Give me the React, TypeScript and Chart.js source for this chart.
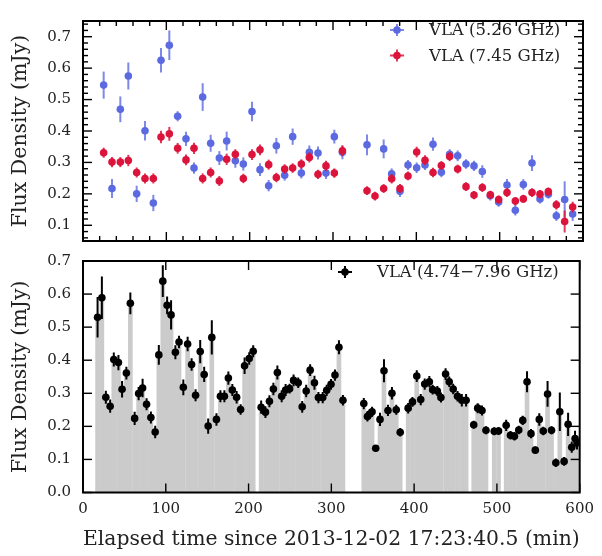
import React, { useEffect, useRef } from "react";
import { Chart, registerables } from "chart.js";

Chart.register(...registerables);

// ---------- data ----------
const blueTime = [24.8, 34.8, 44.8, 54.4, 64.4, 74.4, 84.4, 93.6, 103.6, 113.6, 123.6, 133.2, 143.6, 153.2, 163.6, 172.4, 182.8, 192.4, 202.8, 212.4, 222.8, 232, 242, 251.6, 262, 271.6, 282, 291.6, 301.6, 311.3, 340.8, 360.8, 370.4, 380.4, 390, 400.4, 410.4, 420, 430, 440, 449.6, 459.6, 469.2, 479.2, 488.8, 498.8, 508.8, 518.8, 528.4, 538.8, 548.4, 558.4, 568, 578, 587.6];
const blueFlux = [0.546, 0.217, 0.469, 0.575, 0.2, 0.401, 0.171, 0.625, 0.673, 0.447, 0.375, 0.282, 0.508, 0.361, 0.314, 0.368, 0.305, 0.295, 0.462, 0.277, 0.226, 0.353, 0.259, 0.382, 0.266, 0.332, 0.33, 0.266, 0.382, 0.332, 0.356, 0.343, 0.264, 0.208, 0.292, 0.283, 0.292, 0.358, 0.269, 0.326, 0.321, 0.295, 0.289, 0.271, 0.194, 0.174, 0.228, 0.148, 0.23, 0.298, 0.184, 0.199, 0.13, 0.182, 0.136];
const blueErr = [0.043, 0.03, 0.041, 0.043, 0.026, 0.031, 0.026, 0.039, 0.047, 0.016, 0.023, 0.018, 0.044, 0.027, 0.022, 0.03, 0.022, 0.021, 0.031, 0.02, 0.018, 0.025, 0.017, 0.026, 0.017, 0.022, 0.021, 0.019, 0.022, 0.022, 0.033, 0.03, 0.017, 0.018, 0.016, 0.017, 0.016, 0.021, 0.016, 0.016, 0.017, 0.015, 0.016, 0.02, 0.015, 0.015, 0.019, 0.017, 0.017, 0.025, 0.015, 0.014, 0.016, 0.058, 0.022];

const redTime = [24.8, 34.8, 44.8, 54.4, 64.4, 74.4, 84.4, 93.6, 103.6, 113.6, 123.6, 133.2, 143.6, 153.2, 163.6, 172.4, 182.8, 192.4, 202.8, 212.4, 222.8, 232, 242, 251.6, 262, 271.6, 282, 291.6, 301.6, 311.3, 340.8, 350.4, 360.8, 370.4, 380.4, 390, 400.4, 410.4, 420, 430, 440, 449.6, 459.6, 469.2, 479.2, 488.8, 498.8, 508.8, 518.8, 528.4, 538.8, 548.4, 558.4, 568, 578, 587.6];
const redFlux = [0.331, 0.301, 0.301, 0.306, 0.268, 0.249, 0.249, 0.381, 0.391, 0.345, 0.308, 0.345, 0.249, 0.268, 0.241, 0.31, 0.326, 0.249, 0.325, 0.34, 0.293, 0.252, 0.279, 0.282, 0.295, 0.316, 0.262, 0.289, 0.266, 0.337, 0.21, 0.193, 0.217, 0.248, 0.217, 0.257, 0.333, 0.307, 0.268, 0.29, 0.319, 0.279, 0.223, 0.196, 0.22, 0.197, 0.182, 0.204, 0.177, 0.184, 0.204, 0.199, 0.207, 0.165, 0.112, 0.158];
const redErr = [0.016, 0.016, 0.016, 0.018, 0.016, 0.016, 0.016, 0.02, 0.022, 0.017, 0.017, 0.018, 0.016, 0.016, 0.016, 0.018, 0.016, 0.015, 0.017, 0.017, 0.016, 0.015, 0.015, 0.015, 0.015, 0.016, 0.015, 0.016, 0.015, 0.017, 0.014, 0.014, 0.014, 0.015, 0.014, 0.014, 0.017, 0.016, 0.015, 0.014, 0.015, 0.014, 0.014, 0.013, 0.014, 0.013, 0.013, 0.014, 0.013, 0.013, 0.014, 0.013, 0.013, 0.015, 0.035, 0.017];

const bandTime = [17.6, 22.8, 27.6, 32.8, 37.2, 42.8, 47.2, 52.4, 57.2, 62.4, 67.2, 72, 76.8, 82, 87.2, 91.6, 96.4, 101.6, 106.4, 111.6, 116, 121.2, 126.4, 131.2, 136, 141.6, 146.4, 151.2, 155.6, 161.2, 166, 170.8, 175.6, 180.4, 185.6, 190.4, 195.2, 200.8, 205.6, 215.2, 220.4, 225.2, 230, 234.8, 240, 244.8, 249.6, 254.4, 260, 264.8, 269.6, 274.4, 279.6, 284.4, 289.6, 294.4, 299.6, 304.4, 309.2, 314, 339.2, 343.6, 346.4, 349.2, 353.6, 358.8, 363.6, 368.4, 373.2, 378.4, 383.2, 392.8, 398, 403.2, 408, 412.8, 418.4, 422.4, 428, 432.4, 438, 442.4, 447.2, 452.4, 457.6, 462.8, 472, 476.8, 482, 486.8, 496.8, 502, 511.2, 516.4, 521.2, 526.4, 531.2, 536.4, 541.2, 546.4, 551.2, 556, 561.2, 566, 571.2, 576, 581.2, 586, 590.4, 594.4, 596.8];
const bandFlux = [0.53, 0.589, 0.288, 0.261, 0.402, 0.393, 0.312, 0.361, 0.572, 0.224, 0.299, 0.316, 0.267, 0.227, 0.183, 0.416, 0.639, 0.566, 0.537, 0.424, 0.455, 0.318, 0.449, 0.387, 0.294, 0.426, 0.357, 0.201, 0.469, 0.221, 0.291, 0.291, 0.346, 0.31, 0.288, 0.251, 0.383, 0.405, 0.427, 0.258, 0.243, 0.276, 0.313, 0.363, 0.291, 0.31, 0.314, 0.339, 0.332, 0.259, 0.307, 0.37, 0.332, 0.287, 0.287, 0.309, 0.327, 0.355, 0.439, 0.279, 0.269, 0.23, 0.237, 0.244, 0.134, 0.221, 0.368, 0.248, 0.3, 0.25, 0.182, 0.255, 0.274, 0.352, 0.281, 0.328, 0.335, 0.311, 0.307, 0.287, 0.358, 0.335, 0.313, 0.291, 0.279, 0.279, 0.205, 0.255, 0.248, 0.188, 0.185, 0.186, 0.203, 0.173, 0.17, 0.189, 0.218, 0.335, 0.178, 0.128, 0.221, 0.186, 0.298, 0.188, 0.09, 0.244, 0.094, 0.206, 0.137, 0.163, 0.15];
const bandErr = [0.061, 0.064, 0.02, 0.02, 0.021, 0.023, 0.025, 0.019, 0.033, 0.02, 0.02, 0.028, 0.018, 0.018, 0.019, 0.03, 0.048, 0.027, 0.044, 0.021, 0.019, 0.024, 0.022, 0.019, 0.018, 0.035, 0.023, 0.023, 0.052, 0.019, 0.018, 0.018, 0.02, 0.018, 0.019, 0.016, 0.025, 0.019, 0.018, 0.02, 0.018, 0.018, 0.019, 0.021, 0.018, 0.018, 0.015, 0.018, 0.016, 0.018, 0.019, 0.018, 0.021, 0.017, 0.017, 0.017, 0.016, 0.017, 0.021, 0.016, 0.017, 0.015, 0.015, 0.015, 0.01, 0.02, 0.035, 0.017, 0.019, 0.015, 0.013, 0.016, 0.015, 0.018, 0.017, 0.017, 0.017, 0.015, 0.015, 0.015, 0.018, 0.016, 0.016, 0.016, 0.019, 0.019, 0.012, 0.015, 0.015, 0.012, 0.012, 0.012, 0.017, 0.013, 0.013, 0.013, 0.014, 0.032, 0.014, 0.011, 0.019, 0.013, 0.039, 0.012, 0.013, 0.058, 0.013, 0.035, 0.017, 0.024, 0.02];

const xTickValues = [0, 100, 200, 300, 400, 500, 600];
const yTickTop = [0.1, 0.2, 0.3, 0.4, 0.5, 0.6, 0.7];
const yTickBottom = [0.0, 0.1, 0.2, 0.3, 0.4, 0.5, 0.6, 0.7];

const legendTop = ["VLA (5.26 GHz)", "VLA (7.45 GHz)"];
const legendBottom = ["VLA (4.74\u22127.96 GHz)"];
const xTitle = "Elapsed time since 2013-12-02 17:23:40.5 (min)";
const yTitle = "Flux Density (mJy)";

// ---------- styles ----------
const FONT = "'DejaVu Serif', serif";
const BLUE = "#5c6ae2";
const RED = "#dc143c";
const BLACK = "#000000";
const GREY = "#cbcbcb";
const TEXT = "#222222";

const toPoints = (xs: number[], ys: number[]) => xs.map((x, i) => ({ x, y: ys[i] }));

// error bars, drawn right before each dataset's points
const errorBarPlugin = {
  id: "errorBars",
  beforeDatasetDraw(chart: any, args: any) {
    const ds = chart.data.datasets[args.index];
    if (!ds.errors) return;
    const xs = chart.scales.x;
    const ys = chart.scales.y;
    const ctx = chart.ctx;
    const a = chart.chartArea;
    ctx.save();
    ctx.beginPath();
    ctx.rect(a.left, a.top, a.right - a.left, a.bottom - a.top);
    ctx.clip();
    ctx.strokeStyle = ds.errorColor;
    ctx.globalAlpha = ds.errorAlpha ?? 1;
    ctx.lineWidth = 2;
    ds.data.forEach((p: any, i: number) => {
      const e = ds.errors[i];
      const x = xs.getPixelForValue(p.x);
      ctx.beginPath();
      ctx.moveTo(x, ys.getPixelForValue(p.y - e));
      ctx.lineTo(x, ys.getPixelForValue(p.y + e));
      ctx.stroke();
    });
    ctx.restore();
  },
};

// frame + inward ticks + custom legend
const framePlugin = {
  id: "frameTicks",
  afterDraw(chart: any, _args: any, opts: any) {
    const ctx = chart.ctx;
    const a = chart.chartArea;
    const xs = chart.scales.x;
    const ys = chart.scales.y;
    const MAJ = 9;
    const MIN = 5;
    ctx.save();
    ctx.strokeStyle = "#000";
    ctx.lineWidth = 1.4;
    const line = (x1: number, y1: number, x2: number, y2: number) => {
      ctx.beginPath();
      ctx.moveTo(x1, y1);
      ctx.lineTo(x2, y2);
      ctx.stroke();
    };
    const xTick = (v: number, len: number) => {
      const px = xs.getPixelForValue(v);
      line(px, a.bottom, px, a.bottom - len);
      line(px, a.top, px, a.top + len);
    };
    const yTick = (v: number, len: number) => {
      const py = ys.getPixelForValue(v);
      line(a.left, py, a.left + len, py);
      line(a.right, py, a.right - len, py);
    };
    xs.ticks.forEach((t: any) => xTick(t.value, MAJ));
    ys.ticks.forEach((t: any) => yTick(t.value, MAJ));
    const minors = (scale: any, step: number, major: number, fn: (v: number, l: number) => void) => {
      const k0 = Math.ceil(scale.min / step - 1e-9);
      const k1 = Math.floor(scale.max / step + 1e-9);
      for (let k = k0; k <= k1; k++) {
        const v = k * step;
        const r = v / major;
        if (Math.abs(r - Math.round(r)) < 1e-6) continue;
        fn(v, MIN);
      }
    };
    if (opts.minorX) minors(xs, opts.minorX, 100, xTick);
    if (opts.minorY) minors(ys, opts.minorY, 0.1, yTick);

    ctx.lineWidth = 2;
    ctx.strokeRect(a.left, a.top, a.right - a.left, a.bottom - a.top);

    // legend
    const lg = opts.legend;
    if (lg) {
      ctx.font = `${lg.size}px ${FONT}`;
      ctx.textBaseline = "middle";
      ctx.textAlign = "left";
      lg.items.forEach((it: any, i: number) => {
        const cx = lg.x;
        const cy = lg.y + i * lg.dy;
        ctx.strokeStyle = it.color;
        ctx.globalAlpha = it.alpha ?? 1;
        ctx.lineWidth = 2;
        line(cx - 7, cy, cx + 7, cy);
        line(cx, cy - 6, cx, cy + 6);
        ctx.globalAlpha = 1;
        ctx.fillStyle = it.color;
        ctx.beginPath();
        ctx.arc(cx, cy, 3.8, 0, Math.PI * 2);
        ctx.fill();
        ctx.fillStyle = TEXT;
        ctx.fillText(it.text, lg.textX, cy + 1);
      });
    }
    ctx.restore();
  },
};

const tickFont = { family: FONT, size: 15 };
const titleFont = { family: FONT, size: 20.5 };

function TopPanel() {
  const ref = useRef<HTMLCanvasElement>(null);
  useEffect(() => {
    const chart = new Chart(ref.current!, {
      type: "scatter",
      data: {
        datasets: [
          {
            label: legendTop[1],
            data: toPoints(redTime, redFlux),
            backgroundColor: RED,
            borderWidth: 0,
            pointRadius: 3.8,
            errors: redErr,
            errorColor: RED,
            errorAlpha: 0.85,
          } as any,
          {
            label: legendTop[0],
            data: toPoints(blueTime, blueFlux),
            backgroundColor: BLUE,
            borderWidth: 0,
            pointRadius: 3.8,
            errors: blueErr,
            errorColor: BLUE,
            errorAlpha: 0.8,
          } as any,
        ],
      },
      options: {
        animation: false,
        responsive: false,
        events: [],
        layout: { padding: { left: 0, right: 19, top: 9.5, bottom: 11 } },
        scales: {
          x: {
            type: "linear",
            min: 0,
            max: 600,
            grid: { display: false, drawTicks: false },
            border: { display: false },
            ticks: { display: false },
            afterBuildTicks: (s: any) => {
              s.ticks = xTickValues.map((v) => ({ value: v }));
            },
            afterFit: (s: any) => {
              s.height = 0;
            },
          },
          y: {
            type: "linear",
            min: 0.05,
            max: 0.75,
            grid: { display: false, drawTicks: false },
            border: { display: false },
            afterBuildTicks: (s: any) => {
              s.ticks = yTickTop.map((v) => ({ value: v }));
            },
            ticks: {
              padding: 12,
              color: TEXT,
              font: tickFont,
              callback: (v: any) => Number(v).toFixed(1),
            },
            title: { display: true, text: yTitle, color: TEXT, font: titleFont, padding: { top: 8, bottom: 0 } },
            afterFit: (s: any) => {
              s.width = 83;
            },
          },
        },
        plugins: {
          legend: { display: false },
          tooltip: { enabled: false },
          frameTicks: {
            minorX: 20,
            minorY: 0.02,
            legend: {
              x: 397,
              y: 30,
              dy: 25.5,
              textX: 429,
              size: 16.5,
              items: [
                { text: legendTop[0], color: BLUE, alpha: 0.8 },
                { text: legendTop[1], color: RED, alpha: 0.85 },
              ],
            },
          },
        } as any,
      },
      plugins: [errorBarPlugin, framePlugin],
    });
    return () => chart.destroy();
  }, []);
  return (
    <canvas
      ref={ref}
      width={602}
      height={262}
      style={{ position: "absolute", left: 0, top: 0, width: 602, height: 262 }}
    />
  );
}

function BottomPanel() {
  const ref = useRef<HTMLCanvasElement>(null);
  useEffect(() => {
    const chart = new Chart(ref.current!, {
      type: "scatter",
      data: {
        datasets: [
          {
            label: legendBottom[0],
            data: toPoints(bandTime, bandFlux),
            backgroundColor: BLACK,
            borderWidth: 0,
            pointRadius: 3.8,
            errors: bandErr,
            errorColor: BLACK,
            errorAlpha: 1,
          } as any,
          {
            type: "bar",
            label: "band",
            data: toPoints(bandTime, bandFlux),
            backgroundColor: GREY,
            borderWidth: 0,
            barThickness: 4,
            grouped: false,
          } as any,
        ],
      },
      options: {
        animation: false,
        responsive: false,
        events: [],
        layout: { padding: { left: 0, right: 19, top: 11, bottom: 0 } },
        scales: {
          x: {
            type: "linear",
            min: 0,
            max: 600,
            offset: false,
            grid: { display: false, drawTicks: false },
            border: { display: false },
            afterBuildTicks: (s: any) => {
              s.ticks = xTickValues.map((v) => ({ value: v }));
            },
            ticks: {
              padding: 8,
              color: TEXT,
              font: tickFont,
              autoSkip: false,
              maxRotation: 0,
              callback: (v: any) => String(v),
            },
            title: { display: true, text: xTitle, color: TEXT, font: titleFont, padding: { top: 0, bottom: 4 } },
            afterFit: (s: any) => {
              s.height = 63.5;
            },
          },
          y: {
            type: "linear",
            min: 0,
            max: 0.7,
            grid: { display: false, drawTicks: false },
            border: { display: false },
            afterBuildTicks: (s: any) => {
              s.ticks = yTickBottom.map((v) => ({ value: v }));
            },
            ticks: {
              padding: 12,
              color: TEXT,
              font: tickFont,
              callback: (v: any) => Number(v).toFixed(1),
            },
            title: { display: true, text: yTitle, color: TEXT, font: titleFont, padding: { top: 8, bottom: 0 } },
            afterFit: (s: any) => {
              s.width = 83;
            },
          },
        },
        plugins: {
          legend: { display: false },
          tooltip: { enabled: false },
          frameTicks: {
            legend: {
              x: 345,
              y: 32,
              dy: 0,
              textX: 377,
              size: 16.5,
              items: [{ text: legendBottom[0], color: BLACK }],
            },
          },
        } as any,
      },
      plugins: [errorBarPlugin, framePlugin],
    });
    return () => chart.destroy();
  }, []);
  return (
    <canvas
      ref={ref}
      width={602}
      height={316}
      style={{ position: "absolute", left: 0, top: 240, width: 602, height: 316 }}
    />
  );
}

export default function App() {
  return (
    <div style={{ position: "fixed", left: 0, top: 0, width: 602, height: 556, background: "#fff" }}>
      <TopPanel />
      <BottomPanel />
    </div>
  );
}
